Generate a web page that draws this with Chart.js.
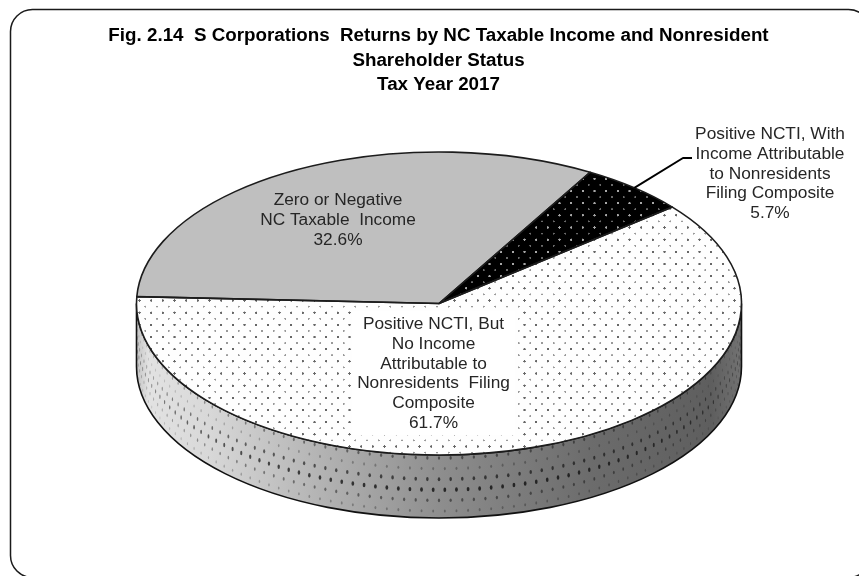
<!DOCTYPE html>
<html>
<head>
<meta charset="utf-8">
<title>Fig. 2.14</title>
<style>
html,body{margin:0;padding:0;background:#fff;overflow:hidden}
canvas{display:block}
</style>
<script src="https://cdn.jsdelivr.net/npm/chart.js@4"></script>
</head>
<body>
<canvas id="grafico" width="859" height="576"></canvas>
<script>
let titulo=["Fig. 2.14  S Corporations  Returns by NC Taxable Income and Nonresident","Shareholder Status","Tax Year 2017"]
let categorias=[
["Zero or Negative","NC Taxable  Income"],
["Positive NCTI, With","Income Attributable","to Nonresidents","Filing Composite"],
["Positive NCTI, But","No Income","Attributable to","Nonresidents  Filing","Composite"]
]
let valores=[32.6,5.7,61.7]

// desired ellipse of the top face and height of the wall
let cx=439,cy=303.5,rx=302.5,ry=151.5,altura=63

function pontos(corFundo,corForte,corFraca){
let t=document.createElement("canvas")
t.width=70
t.height=73
let c=t.getContext("2d")
c.fillStyle=corFundo
c.fillRect(0,0,70,73)
function ponto(x,y,r,cor){
c.fillStyle=cor
c.beginPath()
c.arc(x,y,r,0,Math.PI*2)
c.fill()
}
ponto(18,18,7,corForte)
ponto(53,54.5,6,corFraca)
return c.createPattern(t,"repeat")
}

let ctxBase=document.getElementById("grafico").getContext("2d")
let padraoBranco=pontos("#fefefe","#666","#9a9a9a")
let padraoPreto=pontos("#000","#a8a8a8","#6a6a6a")

function parede(ctx){
ctx.beginPath()
ctx.ellipse(cx,cy,rx,ry,0,0,Math.PI)
ctx.lineTo(cx-rx,cy+altura)
ctx.ellipse(cx,cy+altura,rx,ry,0,Math.PI,0,true)
ctx.closePath()
}

let pizza3d={
id:"pizza3d",
beforeDraw(chart){
let ctx=chart.ctx
ctx.save()
ctx.strokeStyle="#1a1a1a"
ctx.lineWidth=1.5
ctx.beginPath()
ctx.roundRect(10.5,9.5,860,568,22)
ctx.stroke()
ctx.restore()
},
beforeDatasetsDraw(chart){
let ctx=chart.ctx
let el=chart.getDatasetMeta(0).data[0]

ctx.save()
parede(ctx)
let g=ctx.createLinearGradient(cx-rx,0,cx+rx,0)
g.addColorStop(0,"#c4c4c4")
g.addColorStop(0.02,"#e2e2e2")
g.addColorStop(0.12,"#d8d8d8")
g.addColorStop(0.3,"#b4b4b4")
g.addColorStop(0.5,"#8e8e8e")
g.addColorStop(0.75,"#6c6c6c")
g.addColorStop(0.95,"#5e5e5e")
g.addColorStop(1,"#727272")
ctx.fillStyle=g
ctx.fill()
ctx.clip()
// texture rows on the wall, some stronger than others
let forcas=[.45,.28,.6,.72,.45,.28]
for(let j=0;j<6;j++){
let f=forcas[j]
for(let i=-40;i<=40;i++){
let a=(i+(j%2?0.5:0))*11.65/rx
if(Math.abs(a)>=Math.PI/2) continue
let x=cx+rx*Math.sin(a)
let y=cy+ry*Math.cos(a)+3+j*10.6
ctx.fillStyle="rgba(0,0,0,"+f*(0.5+0.5*Math.cos(a))+")"
ctx.beginPath()
ctx.ellipse(x,y,Math.max(0.4,(0.7+f)*Math.cos(a)),1.2+f*1.4,0,0,Math.PI*2)
ctx.fill()
}
}
ctx.restore()

ctx.save()
ctx.strokeStyle="#111"
ctx.lineWidth=1.6
parede(ctx)
ctx.stroke()
ctx.restore()

ctx.save()
ctx.translate(cx,cy)
ctx.scale(rx/el.outerRadius,ry/el.outerRadius)
ctx.translate(-el.x,-el.y)
let m=ctx.getTransform().inverse().translate(139.5-18/6,300.5-18/6).scale(1/6)
padraoBranco.setTransform(m)
padraoPreto.setTransform(m)
},
afterDatasetsDraw(chart){
let ctx=chart.ctx
ctx.restore()
let arcos=chart.getDatasetMeta(0).data

ctx.save()
ctx.strokeStyle="#1c1c1c"
ctx.lineWidth=1.6
ctx.lineJoin="round"
arcos.forEach(a=>{
ctx.beginPath()
ctx.moveTo(cx,cy)
ctx.ellipse(cx,cy,rx,ry,0,a.startAngle,a.endAngle)
ctx.closePath()
ctx.stroke()
})

// leader line of the small slice
let meio=(arcos[1].startAngle+arcos[1].endAngle)/2
ctx.strokeStyle="#000"
ctx.lineWidth=2
ctx.beginPath()
ctx.moveTo(cx+rx*Math.cos(meio),cy+ry*Math.sin(meio))
ctx.lineTo(683,158)
ctx.lineTo(692,158)
ctx.stroke()

ctx.fillStyle="#fff"
ctx.fillRect(352,311,163,124)

ctx.fillStyle="#262626"
ctx.font="17.3px 'Liberation Sans',Arial,sans-serif"
ctx.textAlign="center"
ctx.textBaseline="middle"
let lugares=[[338,200],[770,134],[433.5,324]]
categorias.forEach((linhas,i)=>{
let todas=linhas.concat([valores[i].toFixed(1)+"%"])
todas.forEach((t,k)=>ctx.fillText(t,lugares[i][0],lugares[i][1]+k*19.9))
})
ctx.restore()
}
}

new Chart(ctxBase,{
type:"pie",
data:{
labels:categorias.map(c=>c.join(" ")),
datasets:[{
data:valores,
backgroundColor:["#bfbfbf",padraoPreto,padraoBranco],
borderWidth:0,
clip:false
}]
},
options:{
responsive:false,
animation:false,
rotation:-87.4,
layout:{padding:{left:18,bottom:0}},
events:[],
plugins:{
legend:{display:false},
tooltip:{enabled:false},
title:{
display:true,
text:titulo,
color:"#000",
font:{family:"'Liberation Sans',Arial,sans-serif",size:18.8,weight:"bold",lineHeight:1.3},
padding:{top:24,bottom:10}
}
}
},
plugins:[pizza3d]
})
</script>
</body>
</html>
